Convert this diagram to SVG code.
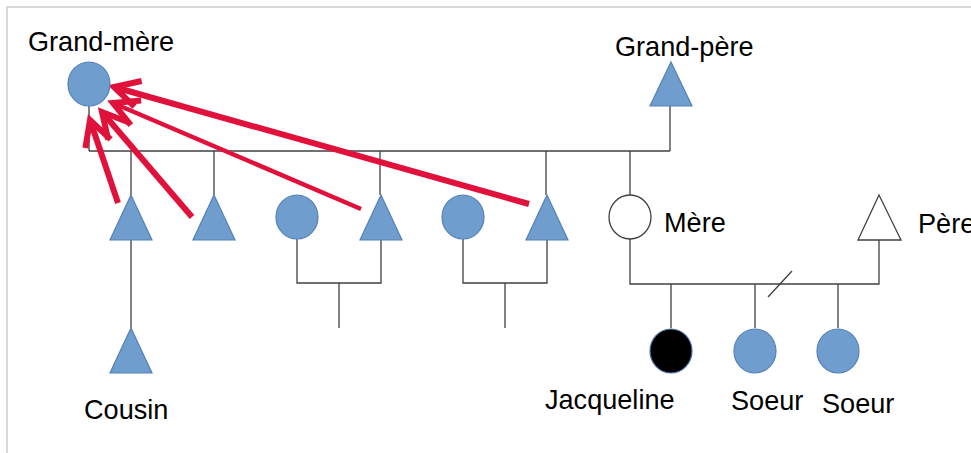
<svg xmlns="http://www.w3.org/2000/svg" width="971" height="453" viewBox="0 0 971 453">
<style>
.lbl{font-family:"Liberation Sans",Arial,sans-serif;font-size:27.1px;fill:#000}
.b{fill:#6f9dce;stroke:#5581b8;stroke-width:1.2}
.w{fill:#fff;stroke:#404040;stroke-width:1.3}
.k{fill:#000;stroke:#4a72a8;stroke-width:1.2}
.ln{stroke:#404040;stroke-width:1.3;fill:none}
.ar{stroke:#e0123c;stroke-width:6;fill:none;marker-end:url(#v)}
</style>
<defs>
<marker id="v" markerUnits="userSpaceOnUse" markerWidth="60" markerHeight="60" refX="0" refY="0" orient="auto" overflow="visible">
<path d="M-25,-13.3 L0,0 L-25,13.3" stroke="#e0123c" stroke-width="6" fill="none" stroke-linejoin="miter"/>
</marker>
</defs>
<rect x="0" y="0" width="971" height="453" fill="#fff"/>
<path d="M7,453 V7 H971" fill="none" stroke="#d9d9d9" stroke-width="2"/>
<g id="connectors">
<path class="ln" d="M89,106 V151 M670,106 V151 M89,151 H670"/>
<path class="ln" d="M131,151 V195 M214,151 V195 M380,151 V195 M546,151 V195 M630,151 V195"/>
<path class="ln" d="M131,240 V328"/>
<path class="ln" d="M297,239 V283 H381 V240 M339,283 V328"/>
<path class="ln" d="M463,239 V283 H547 V240 M505,283 V328"/>
<path class="ln" d="M630,239 V284 H879 V240 M671,284 V328 M755,284 V328 M838,284 V328"/>
<path class="ln" d="M768,297 L792,271"/>
<path class="ar" d="M118,203 L90,120"/>
<path class="ar" d="M192,217 L102,112"/>
<path class="ar" d="M361,209 L113,103" style="stroke-width:4.5"/>
<path class="ar" d="M529,204 L114,87"/>
</g>
<g id="grandmere"><ellipse class="b" cx="89" cy="84" rx="21" ry="22"/><text class="lbl" x="28" y="51">Grand-mère</text></g>
<g id="grandpere"><polygon class="b" points="671,62 692,106 650,106"/><text class="lbl" x="615" y="56">Grand-père</text></g>
<g id="oncle1"><polygon class="b" points="131,195 152,240 110,240"/></g>
<g id="oncle2"><polygon class="b" points="214,195 235,240 193,240"/></g>
<g id="tante1"><ellipse class="b" cx="297" cy="217" rx="21" ry="22"/></g>
<g id="oncle3"><polygon class="b" points="381,195 402,240 360,240"/></g>
<g id="tante2"><ellipse class="b" cx="463" cy="217" rx="21" ry="22"/></g>
<g id="oncle4"><polygon class="b" points="547,195 568,240 526,240"/></g>
<g id="mere"><ellipse class="w" cx="630" cy="217" rx="21" ry="22"/><text class="lbl" x="664" y="232">Mère</text></g>
<g id="pere"><polygon class="w" points="879,195 901,240 858,240"/><text class="lbl" x="918" y="233">Père</text></g>
<g id="cousin"><polygon class="b" points="131,328 152,373 110,373"/><text class="lbl" x="84" y="419">Cousin</text></g>
<g id="jacqueline"><ellipse class="k" cx="671" cy="351" rx="21" ry="22"/><text class="lbl" x="545" y="409">Jacqueline</text></g>
<g id="soeur1"><ellipse class="b" cx="755" cy="351" rx="21" ry="22"/><text class="lbl" x="731" y="410">Soeur</text></g>
<g id="soeur2"><ellipse class="b" cx="838" cy="351" rx="21" ry="22"/><text class="lbl" x="822" y="413">Soeur</text></g>
</svg>
